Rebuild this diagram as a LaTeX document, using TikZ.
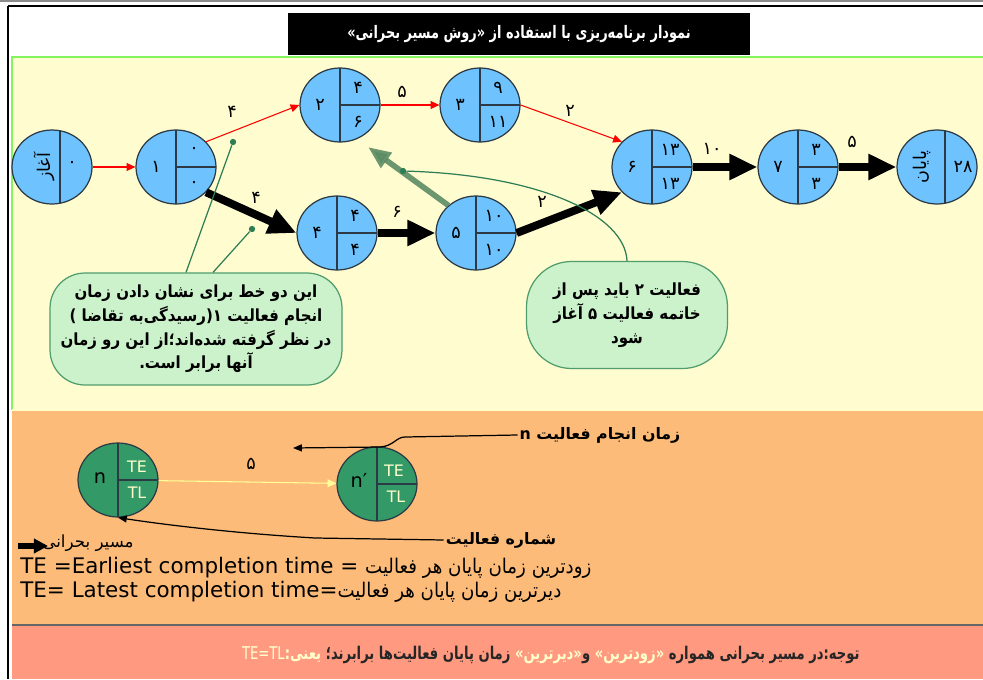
\documentclass[tikz,border=0pt]{standalone}
\usepackage{fontspec}
\setmainfont{DejaVu Sans}
\newfontfamily\fa[Script=Arabic]{DejaVu Sans}
\newfontfamily\fanarrow[Script=Arabic, FakeStretch=0.75]{DejaVu Sans}
\newfontfamily\faslim[Script=Arabic, FakeStretch=0.9]{DejaVu Sans}
\TeXXeTstate=1
\usetikzlibrary{positioning, arrows.meta, calc, shapes.geometric}

\definecolor{paleyellow}{HTML}{FFFCCF}
\definecolor{framegreen}{HTML}{84F45E}
\definecolor{peach}{HTML}{FDBB79}
\definecolor{salmon}{HTML}{FF9A80}
\definecolor{nodeblue}{HTML}{6EC3FF}
\definecolor{nodeedge}{HTML}{2B3A44}
\definecolor{notefill}{HTML}{CCF2CC}
\definecolor{noteedge}{HTML}{4F9C6C}
\definecolor{pointer}{HTML}{2F7D55}
\definecolor{depgreen}{HTML}{5B8B64}
\definecolor{keygreen}{HTML}{339966}
\definecolor{softyellow}{HTML}{FFFF99}
\definecolor{labelyellow}{HTML}{FFFFCC}

\tikzset{
  eventbase/.style={ellipse, draw=nodeedge, fill=nodeblue, line width=0.7pt,
    minimum width=1.6cm, minimum height=1.48cm, inner sep=0pt},
  event/.style={eventbase, path picture={
    \draw[nodeedge, line width=0.7pt] (path picture bounding box.north) -- (path picture bounding box.south)
      (path picture bounding box.center) -- (path picture bounding box.east);}},
  terminal/.style={eventbase, path picture={
    \draw[nodeedge, line width=0.7pt] ([xshift=0.16cm]path picture bounding box.north)
      -- ([xshift=0.16cm]path picture bounding box.south);}},
  num/.style={font=\fa\fontsize{10}{12}\selectfont, inner sep=1pt},
  actline/.style={red, line width=0.6pt, -{Triangle[length=5pt,width=4.5pt]}},
  critline/.style={black, line width=4.5pt, -{Triangle[length=16pt,width=14pt]}},
  depline/.style={depgreen, opacity=0.9, line width=3.2pt, -{Triangle[length=13pt,width=10pt]}},
  note/.style={rectangle, draw=noteedge, fill=notefill, line width=0.7pt, align=center,
    inner sep=0pt, font=\faslim\bfseries\fontsize{9.5}{13.5}\selectfont},
  pin/.style={circle, fill=pointer, inner sep=0pt, minimum size=3.6pt},
  pinline/.style={pointer, line width=0.7pt},
  annot/.style={font=\fa\bfseries\fontsize{9}{11}\selectfont, inner sep=1pt},
  annotline/.style={black, line width=0.7pt, -{Triangle[length=5pt,width=4pt]}},
  keyval/.style={font=\fontsize{9}{10}\selectfont, text=labelyellow, inner sep=0pt}
}

\begin{document}
\begin{tikzpicture}[x=0.02cm, y=-0.02cm]
\useasboundingbox (0,0) rectangle (983,679);
% page, frame and the three panels
\fill[white] (0,0) rectangle (983,679);
\draw[black!45, line width=1.2pt] (0,1) -- (983,1);
\draw[black, line width=0.8pt] (8,6) -- (983,6);
\draw[black, line width=1.5pt] (8,6) -- (8,679);
\fill[paleyellow] (12,57) rectangle (983,410);
\draw[framegreen, line width=1.2pt] (12,410) -- (12,57) -- (983,57);
\fill[peach] (12,410) rectangle (983,625);
\draw[labelyellow, line width=1pt] (12,410) -- (983,410);
\fill[salmon] (12,625) rectangle (983,679);
\draw[black!60, line width=0.6pt] (12,625) -- (983,625);
% title bar
\node[fill=black, text=white, minimum width=9.26cm, minimum height=0.86cm,
  font=\fanarrow\bfseries\fontsize{9.8}{11}\selectfont] (title) at (519,34)
  {\beginR نمودار برنامه‌ریزی با استفاده از «روش مسیر بحرانی»\endR};

% network events: name/x/y/number/TE/TL
\foreach \nm/\x/\y/\id/\te/\tl in {n1/176/167/۱/۰/۰, n2/340/105/۲/۴/۶, n3/480/105/۳/۹/۱۱,
    n4/337/233/۴/۴/۴, n5/476/233/۵/۱۰/۱۰, n6/652/167/۶/۱۳/۱۳, n7/798/167/۷/۳/۳} {
  \node[event] (\nm) at (\x,\y) {};
  \node[num] (\nm-id) at ($(\nm)+(-20,0)$) {\id};
  \node[num] (\nm-te) at ($(\nm)+(18,-17)$) {\te};
  \node[num] (\nm-tl) at ($(\nm)+(18,17)$) {\tl};
}
% start and end events
\node[terminal] (start) at (52,167) {};
\node[num, rotate=90] (start-id) at (44,167) {\beginR آغاز\endR};
\node[num] (start-te) at (72,164) {۰};
\node[terminal] (end) at (937,167) {};
\node[num, rotate=90] (end-id) at (922,167) {\beginR پایان\endR};
\node[num] (end-te) at (963,167) {۲۸};

% non-critical activities
\draw[actline] (start) -- (n1);
\draw[actline] (n1.40) -- (n2.west);
\draw[actline] (n2) -- (n3);
\draw[actline] (n3.east) -- (n6.140);
% critical path
\draw[critline] (n1.-40) -- (n4.west);
\draw[critline] (n4) -- (n5);
\draw[critline] (n5.east) -- (n6.-140);
\draw[critline] (n6) -- (n7);
\draw[critline] (n7) -- (end);
% durations
\node[num] (d12) at (232,112) {۴};
\node[num] (d23) at (402,92) {۵};
\node[num] (d36) at (570,111) {۲};
\node[num] (d14) at (256,198) {۴};
\node[num] (d45) at (397,212) {۶};
\node[num] (d56) at (542,202) {۲};
\node[num] (d67) at (712,149) {۱۰};
\node[num] (d7e) at (852,142) {۵};
% precedence 5 -> 2
\coordinate (depTip) at (368,147);
\draw[depline] (n5.135) -- (depTip);

% callouts
\node[note, minimum width=5.84cm, minimum height=2.24cm, rounded corners=0.7cm] (noteA) at (196,329)
  {\beginR این دو خط برای نشان دادن زمان\endR\\
   \beginR انجام فعالیت ۱(رسیدگی‌به تقاضا )\endR\\
   \beginR در نظر گرفته شده‌اند؛از این رو زمان\endR\\
   \beginR آنها برابر است.\endR};
\node[pin] (pinA) at (233,142) {};
\node[pin] (pinB) at (252,229) {};
\draw[pinline] ([xshift=-0.2cm]noteA.north) -- (pinA);
\draw[pinline] ([xshift=0.34cm]noteA.north) -- (pinB);
\node[note, minimum width=4.02cm, minimum height=2.14cm, rounded corners=0.9cm] (noteB) at (627,315)
  {\beginR فعالیت ۲ باید پس از\endR\\
   \beginR خاتمه فعالیت ۵ آغاز\endR\\
   \beginR شود\endR};
\node[pin] (pinC) at (403,171) {};
\draw[pinline] (pinC) .. controls (540,175) and (625,215) .. (noteB.north);

% key: one activity between two events
\node[event, fill=keygreen] (keyA) at (118,480) {};
\node[font=\fontsize{11}{12}\selectfont, inner sep=0pt] (keyA-id) at ($(keyA)+(-18,-2)$) {n};
\node[keyval] (keyA-te) at ($(keyA)+(19,-13)$) {TE};
\node[keyval] (keyA-tl) at ($(keyA)+(19,13)$) {TL};
\node[event, fill=keygreen] (keyB) at (377,484) {};
\node[font=\fontsize{11}{12}\selectfont, inner sep=0pt] (keyB-id) at ($(keyB)+(-18,-4)$) {n′};
\node[keyval] (keyB-te) at ($(keyB)+(17,-13)$) {TE};
\node[keyval] (keyB-tl) at ($(keyB)+(19,13)$) {TL};
\draw[softyellow, line width=0.6pt, -{Triangle[length=5pt,width=4.5pt]}] (keyA) -- (keyB);
\node[num] (dAB) at (251,464) {۵};
% key annotations
\node[annot] (doneTime) at (600,435) {\beginR زمان انجام فعالیت {\bfseries n}\endR};
\coordinate (doneTip) at (293,448);
\draw[annotline] (doneTime.west) -- (405,437) .. controls (396,437) and (394,446) .. (380,447) -- (doneTip);
\node[annot] (actNum) at (501,540) {\beginR شماره فعالیت\endR};
\draw[annotline] (actNum.west) -- (315,538) .. controls (230,533) and (160,524) .. (keyA.south);
% legend
\draw[line width=3.4pt, -{Triangle[length=8pt,width=8pt]}] (18,546) -- (48,546);
\node[annot, font=\fa\fontsize{9.5}{11}\selectfont] (critKey) at (88,543) {\beginR مسیر بحرانی\endR};
\node[anchor=west, inner sep=0pt, font=\fontsize{12.2}{14}\selectfont] (teLine) at (20,568)
  {TE =Earliest completion time = {\faslim\fontsize{11.5}{14}\selectfont\beginR زودترین زمان پایان هر فعالیت\endR}};
\node[anchor=west, inner sep=0pt, font=\fontsize{12.2}{14}\selectfont] (tlLine) at (20,592)
  {TE= Latest completion time={\faslim\fontsize{11.5}{14}\selectfont\beginR دیرترین زمان پایان هر فعالیت\endR}};

% bottom remark
\node[anchor=east, inner sep=0pt, text=black!85, font=\fanarrow\bfseries\fontsize{10}{12}\selectfont] (remark) at (860,655)
  {\textcolor{labelyellow}{\beginR یعنی:\beginL{\mdseries TE=TL}\endL\endR}\ \beginR زمان پایان فعالیت‌ها برابرند؛\endR\
   \textcolor{labelyellow}{\beginR«دیرترین»\endR}\beginR و\endR\ \textcolor{labelyellow}{\beginR«زودترین»\endR}\
   \beginR توجه:در مسیر بحرانی همواره\endR};
\end{tikzpicture}
\end{document}
